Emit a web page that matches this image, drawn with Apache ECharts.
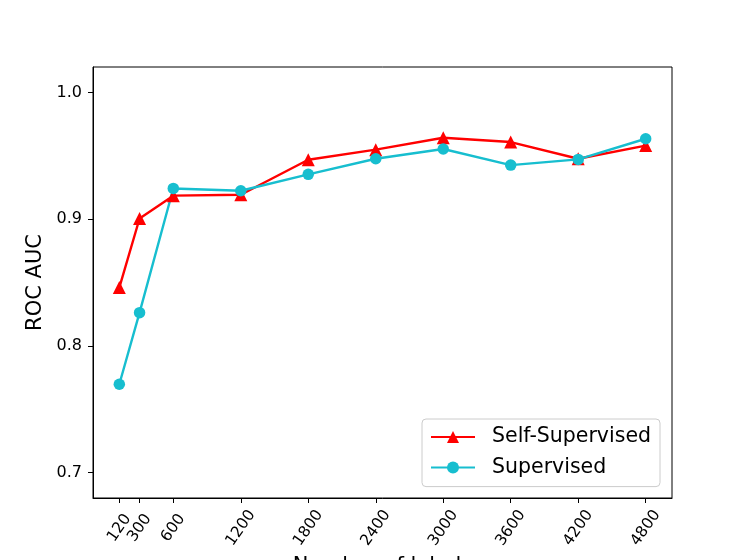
<!DOCTYPE html>
<html>
<head>
<meta charset="utf-8">
<script src="https://cdn.jsdelivr.net/npm/echarts@6/dist/echarts.min.js"></script>
<style>
html,body{margin:0;padding:0;background:#fff;}
#main{width:747px;height:560px;}
</style>
</head>
<body>
<div id="main"></div>
<script>
var labels = [120, 300, 600, 1200, 1800, 2400, 3000, 3600, 4200, 4800];
var selfSupervised = [0.846, 0.9005, 0.9185, 0.9192, 0.9468, 0.9548, 0.9642, 0.9608, 0.9476, 0.9580];
var supervised = [0.7697, 0.8262, 0.9242, 0.9224, 0.9353, 0.9476, 0.9553, 0.9426, 0.9471, 0.9634];
var yTicks = [0.7, 0.8, 0.9, 1.0];

var font = 'DejaVu Sans';
var chart = echarts.init(document.getElementById('main'));
function pairs(vals){ return labels.map(function(x,i){ return [x, vals[i]]; }); }
chart.setOption({
  animation: false,
  backgroundColor: '#fff',
  textStyle: { fontFamily: font },
  grid: { left: 93, right: 75, top: 67, bottom: 62, containLabel: false, outerBoundsMode: 'none',
    show: true, borderColor: '#000', borderWidth: 1, backgroundColor: 'transparent' },
  legend: {
    orient: 'vertical', left: 422, top: 419,
    padding: [7, 9, 8, 8],
    itemGap: 8.6, itemWidth: 44, itemHeight: 15,
    backgroundColor: '#fff', borderColor: '#cccccc', borderWidth: 1, borderRadius: 4,
    textStyle: { fontFamily: font, fontSize: 20.5, color: '#000', lineHeight: 22, padding: [0, 0, 0, 12] },
    data: ['Self-Supervised', 'Supervised']
  },
  xAxis: {
    type: 'value', min: -114, max: 5034,
    name: 'Number of labels', nameLocation: 'middle', nameGap: 52,
    nameTextStyle: { fontFamily: font, fontSize: 21, color: '#000' },
    axisLine: { show: true, onZero: false, lineStyle: { color: '#000', width: 1 } },
    axisTick: { show: true, length: 5, customValues: labels, lineStyle: { color: '#000' } },
    axisLabel: { customValues: labels, rotate: 55, align: 'center', verticalAlign: 'middle', margin: 30,
      fontFamily: font, fontSize: 15.5, color: '#000', formatter: function(v){ return String(v); } },
    splitLine: { show: false }
  },
  yAxis: {
    type: 'value', min: 0.68, max: 1.02,
    name: 'ROC AUC', nameLocation: 'middle', nameGap: 43, nameRotate: 90,
    nameTextStyle: { fontFamily: font, fontSize: 21, color: '#000' },
    axisLine: { show: true, onZero: false, lineStyle: { color: '#000', width: 1 } },
    axisTick: { show: true, length: 5, customValues: yTicks, lineStyle: { color: '#000' } },
    axisLabel: { customValues: yTicks, margin: 11, fontFamily: font, fontSize: 16, color: '#000',
      formatter: function(v){ return v.toFixed(1); } },
    splitLine: { show: false }
  },
  series: [
    { name: 'Self-Supervised', type: 'line', data: pairs(selfSupervised),
      symbol: 'triangle', symbolSize: 13, showAllSymbol: true,
      lineStyle: { color: '#ff0000', width: 2.4 }, itemStyle: { color: '#ff0000' }, color: '#ff0000' },
    { name: 'Supervised', type: 'line', data: pairs(supervised),
      symbol: 'circle', symbolSize: 11.5, showAllSymbol: true,
      lineStyle: { color: '#17becf', width: 2.4 }, itemStyle: { color: '#17becf' }, color: '#17becf' }
  ]
});
</script>
</body>
</html>
